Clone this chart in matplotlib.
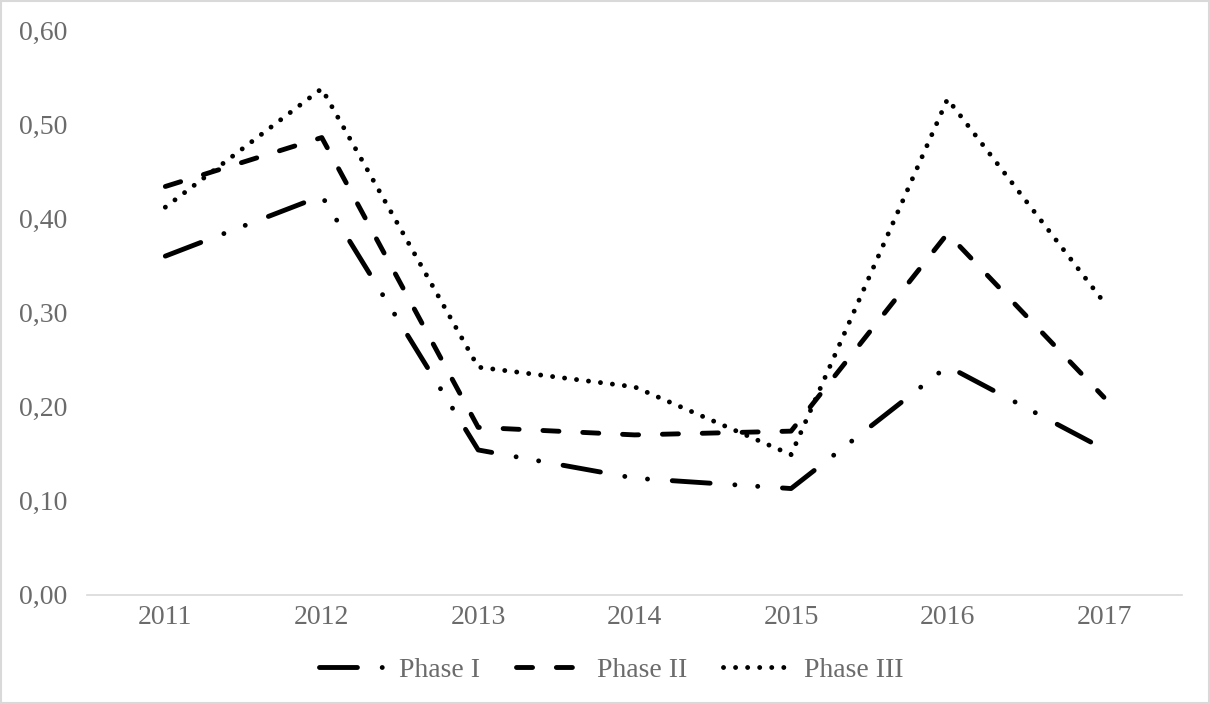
import matplotlib
matplotlib.use("Agg")
import matplotlib.pyplot as plt
from matplotlib.patches import Rectangle
from matplotlib.ticker import FuncFormatter

# ==========================================
# 데이터
# ==========================================
years = ["2011", "2012", "2013", "2014", "2015", "2016", "2017"]
phase_1 = [0.360, 0.424, 0.154, 0.124, 0.113, 0.243, 0.155]
phase_2 = [0.434, 0.486, 0.178, 0.170, 0.174, 0.384, 0.210]
phase_3 = [0.412, 0.538, 0.242, 0.221, 0.149, 0.527, 0.311]
labels = ["Phase I", "Phase II", "Phase III"]

# ==========================================
# 스타일
# ==========================================
TEXT_COLOR = "#6b6b6b"
LINE_GRAY = "#d9d9d9"
LW = 3.5
FS = 20
plt.rcParams["font.family"] = ["Liberation Serif", "DejaVu Serif"]

dashes = [
    (0, (7.8, 5.1, 0.01, 4.7, 0.01, 5.1)),  # long dash dot dot
    (0, (3.3, 4.9)),                          # dash
    (0, (0.01, 2.47)),                        # dot
]

fig = plt.figure(figsize=(12.10, 7.04), dpi=100)
ax = fig.add_axes([0.072, 0.155, 0.905, 0.802])

x = list(range(len(years)))
for vals, ls, lab in zip([phase_1, phase_2, phase_3], dashes, labels):
    ax.plot(x, vals, color="black", lw=LW, linestyle=ls, label=lab,
            dash_capstyle="round", solid_joinstyle="miter")

ax.set_xlim(-0.5, len(years) - 0.5)
ax.set_ylim(0, 0.6)
ax.set_xticks(x)
ax.set_xticklabels(years)
ax.set_yticks([0.0, 0.1, 0.2, 0.3, 0.4, 0.5, 0.6])
ax.yaxis.set_major_formatter(FuncFormatter(lambda v, p: f"{v:.2f}".replace(".", ",")))

for side in ["top", "right", "left"]:
    ax.spines[side].set_visible(False)
ax.spines["bottom"].set_color(LINE_GRAY)
ax.spines["bottom"].set_linewidth(1.2)

ax.tick_params(axis="both", length=0, labelsize=FS, labelcolor=TEXT_COLOR)
ax.tick_params(axis="x", pad=7)
ax.tick_params(axis="y", pad=14)

leg = fig.legend(loc="center", bbox_to_anchor=(0.505, 0.048), ncol=3, frameon=False,
                 fontsize=FS, handlelength=2.5, handletextpad=0.4,
                 columnspacing=1.3)
for t in leg.get_texts():
    t.set_color(TEXT_COLOR)

# 바깥 테두리
fig.patches.append(Rectangle((0.001, 0.001), 0.998, 0.997, transform=fig.transFigure,
                             fill=False, edgecolor=LINE_GRAY, lw=1.5))

fig.savefig("out.png", dpi=100)
